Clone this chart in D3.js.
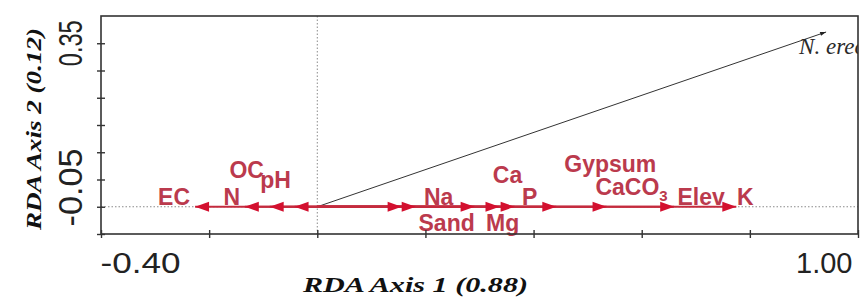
<!DOCTYPE html>
<html>
<head>
<meta charset="utf-8">
<script src="https://cdn.jsdelivr.net/npm/d3@7"></script>
<style>
  body { margin: 0; background: #fff; }
  svg { display: block; }
</style>
</head>
<body>
<div id="vis"></div>
<script>
// axis ticks (only the end labels are printed)
const xTicks = [-0.4, -0.2, 0, 0.2, 0.4, 0.6, 0.8, 1.0];
const xTickLabels = ['-0.40', '', '', '', '', '', '', '1.00'];
const yTicks = [-0.21, -0.13, -0.05, 0.03, 0.11, 0.19, 0.27, 0.35];
const yTickLabels = ['', '', '-0.05', '', '', '', '', '0.35'];

// environmental vectors (biplot scores)
const envNames = ['EC', 'N', 'OC', 'pH', 'Sand', 'Na', 'Mg', 'Ca', 'P', 'Gypsum', 'CaCO3', 'Elev', 'K'];
const envX = [-0.226, -0.134, -0.088, -0.042, 0.156, 0.182, 0.291, 0.337, 0.365, 0.442, 0.535, 0.660, 0.775];
const envY = [-0.13, -0.13, -0.13, -0.13, -0.13, -0.13, -0.13, -0.13, -0.13, -0.13, -0.13, -0.13, -0.13];

// species vector
const spNames = ['N. erectus'];
const spX = [0.941];
const spY = [0.383];

// origin of the vectors
const originX = 0;
const originY = -0.13;

// label nudges in px (placement only)
const nudge = {
  EC: [-21, -2], N: [-13, -2], OC: [-23, -29], pH: [-19, -19],
  Sand: [45, 24], Na: [23, -2], Mg: [28, 24], Ca: [8, -24], P: [15, -2],
  Gypsum: [54, -35], CaCO3: [25, -12], Elev: [27, -2], K: [9, -2]
};

const W = 860, H = 297;
const svg = d3.select('#vis').append('svg')
  .attr('width', W)
  .attr('height', H);

const x = d3.scaleLinear().domain([-0.4, 1.0]).range([101, 858]);
const y = d3.scaleLinear().domain([-0.21, 0.43]).range([234, 16]);

svg.append('clipPath').attr('id', 'plotclip')
  .append('rect')
  .attr('x', x(-0.4)).attr('y', y(0.43))
  .attr('width', x(1.0) - x(-0.4)).attr('height', y(-0.21) - y(0.43));

// dotted origin lines
svg.append('line')
  .attr('x1', x(-0.4)).attr('x2', x(1.0))
  .attr('y1', y(originY)).attr('y2', y(originY))
  .attr('stroke', '#8a8a8a').attr('stroke-width', 1)
  .attr('stroke-dasharray', '1.5,2');
svg.append('line')
  .attr('x1', x(originX)).attr('x2', x(originX))
  .attr('y1', y(0.43)).attr('y2', y(-0.21))
  .attr('stroke', '#8a8a8a').attr('stroke-width', 1)
  .attr('stroke-dasharray', '1.5,2');

// species arrow
const sp = spNames.map((n, i) => ({ name: n, x: spX[i], y: spY[i] }));
svg.selectAll('.sp-line')
  .data(sp)
  .enter()
  .append('line')
  .attr('class', 'sp-line')
  .attr('x1', x(originX)).attr('y1', y(originY))
  .attr('x2', d => x(d.x)).attr('y2', d => y(d.y))
  .attr('stroke', '#333').attr('stroke-width', 1);

svg.selectAll('.sp-head')
  .data(sp)
  .enter()
  .append('path')
  .attr('class', 'sp-head')
  .attr('d', d => {
    const tx = x(d.x), ty = y(d.y);
    const a = Math.atan2(ty - y(originY), tx - x(originX));
    const L = 6, w = 2;
    const bx = tx - L * Math.cos(a), by = ty - L * Math.sin(a);
    return `M${tx},${ty}L${bx - w * Math.sin(a)},${by + w * Math.cos(a)}L${bx + w * Math.sin(a)},${by - w * Math.cos(a)}Z`;
  })
  .attr('fill', '#222');

svg.append('g')
  .attr('clip-path', 'url(#plotclip)')
  .selectAll('text')
  .data(sp)
  .enter()
  .append('text')
  .attr('x', d => x(d.x) - 27)
  .attr('y', d => y(d.y) + 22)
  .attr('font-family', '"Liberation Serif", serif')
  .attr('font-style', 'italic')
  .attr('font-size', '23px')
  .attr('fill', '#2a2a2a')
  .text(d => d.name);

// environmental arrows
const env = envNames.map((n, i) => ({ name: n, x: envX[i], y: envY[i] }));

svg.selectAll('.env-line')
  .data(env)
  .enter()
  .append('line')
  .attr('class', 'env-line')
  .attr('x1', x(originX)).attr('y1', y(originY))
  .attr('x2', d => x(d.x)).attr('y2', d => y(d.y))
  .attr('stroke', '#c42b3e').attr('stroke-width', 2);

svg.selectAll('.env-head')
  .data(env)
  .enter()
  .append('path')
  .attr('class', 'env-head')
  .attr('d', d => {
    const tx = x(d.x), ty = y(d.y);
    const dir = d.x < originX ? 1 : -1; // base sits back toward origin
    const bx = tx + dir * 14;
    return `M${tx},${ty}L${bx},${ty - 5}L${bx},${ty + 5}Z`;
  })
  .attr('fill', '#d3102f');

const envLabels = svg.selectAll('.env-label')
  .data(env)
  .enter()
  .append('text')
  .attr('class', 'env-label')
  .attr('x', d => x(d.x) + nudge[d.name][0])
  .attr('y', d => y(d.y) + nudge[d.name][1])
  .attr('text-anchor', 'middle')
  .attr('font-family', '"Liberation Sans", Arial, sans-serif')
  .attr('font-weight', 'bold')
  .attr('font-size', '23px')
  .attr('fill', '#bb3a4d');

envLabels.each(function (d) {
  const t = d3.select(this);
  if (d.name === 'CaCO3') {
    t.append('tspan').text('CaCO');
    t.append('tspan').attr('font-size', '15px').attr('dy', 6).text('3');
  } else {
    t.text(d.name);
  }
});

// frame
svg.append('rect')
  .attr('x', x(-0.4)).attr('y', y(0.43))
  .attr('width', x(1.0) - x(-0.4)).attr('height', y(-0.21) - y(0.43))
  .attr('fill', 'none')
  .attr('stroke', '#333').attr('stroke-width', 1.6);

// x axis
const gx = svg.append('g')
  .attr('transform', `translate(0,${y(-0.21)})`)
  .call(d3.axisBottom(x).tickValues(xTicks).tickSize(4).tickFormat((d, i) => xTickLabels[i]));
gx.select('.domain').remove();
gx.selectAll('.tick line').attr('y1', -4).attr('stroke', '#333').attr('stroke-width', 1.4);
gx.selectAll('.tick text')
  .attr('y', 39).attr('dy', null)
  .attr('font-family', '"Liberation Sans", Arial, sans-serif')
  .attr('font-size', '29px')
  .attr('fill', '#222')
  .attr('text-anchor', (d, i) => i === 0 ? 'start' : 'end')
  .attr('x', (d, i) => i === 0 ? -1 : -6)
  .each(function (d, i) {
    if (i === 0) d3.select(this).attr('textLength', 80).attr('lengthAdjust', 'spacingAndGlyphs');
  });

// y axis
const gy = svg.append('g')
  .attr('transform', `translate(${x(-0.4)},0)`)
  .call(d3.axisLeft(y).tickValues(yTicks).tickSize(4).tickFormat(''));
gy.select('.domain').remove();
gy.selectAll('.tick line').attr('x1', 4).attr('stroke', '#333').attr('stroke-width', 1.4);

svg.selectAll('.ytick-label')
  .data(yTicks.filter((d, i) => yTickLabels[i] !== ''))
  .enter()
  .append('text')
  .attr('class', 'ytick-label')
  .attr('transform', d => `translate(82,${y(d) + (d < 0 ? 8 : 0)}) rotate(-90)`)
  .attr('text-anchor', 'middle')
  .attr('font-family', '"Liberation Sans", Arial, sans-serif')
  .attr('font-size', '33px')
  .attr('fill', '#222')
  .attr('textLength', d => d < 0 ? 78 : 46)
  .attr('lengthAdjust', 'spacingAndGlyphs')
  .text(d => yTickLabels[yTicks.indexOf(d)]);

// axis titles
svg.append('text')
  .attr('x', 303).attr('y', 292)
  .attr('font-family', '"Liberation Serif", serif')
  .attr('font-weight', 'bold').attr('font-style', 'italic')
  .attr('font-size', '21px')
  .attr('fill', '#111')
  .attr('textLength', 225).attr('lengthAdjust', 'spacingAndGlyphs')
  .text('RDA Axis 1 (0.88)');

svg.append('text')
  .attr('transform', 'translate(41,129) rotate(-90)')
  .attr('text-anchor', 'middle')
  .attr('font-family', '"Liberation Serif", serif')
  .attr('font-weight', 'bold').attr('font-style', 'italic')
  .attr('font-size', '21px')
  .attr('fill', '#111')
  .attr('textLength', 202).attr('lengthAdjust', 'spacingAndGlyphs')
  .text('RDA Axis 2 (0.12)');
</script>
</body>
</html>
